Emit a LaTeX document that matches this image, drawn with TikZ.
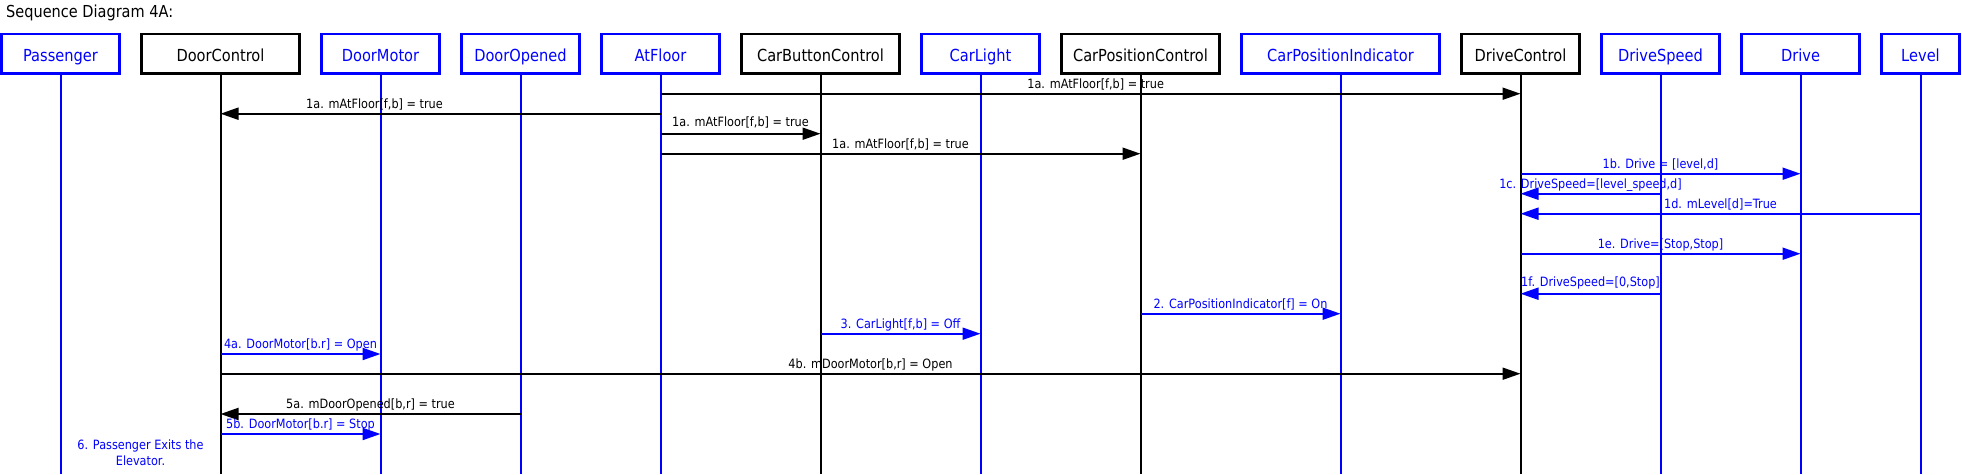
\documentclass[tikz,border=0pt]{standalone}
\usepackage{fontspec}
\setmainfont{DejaVu Sans}[FakeStretch=0.88]
\usetikzlibrary{arrows.meta}
\begin{document}
\begin{tikzpicture}[x=1pt,y=-1pt,
  box/.style={draw, line width=2.5pt, minimum height=39.5pt, inner sep=0pt,
    text height=15.3pt, text depth=0pt, font=\fontsize{16.6}{19}\selectfont},
  bbox/.style={box, draw=blue, text=blue},
  kbox/.style={box, draw=black, text=black},
  lifeb/.style={draw=blue, line width=2pt},
  lifek/.style={draw=black, line width=2pt},
  msgk/.style={draw=black, line width=2pt, -{Triangle[length=18pt,width=12pt]}},
  msgb/.style={draw=blue, line width=2pt, -{Triangle[length=18pt,width=12pt]}, blue},
  lbl/.style={anchor=base, inner sep=0pt, yshift=5.7pt, font=\fontsize{12.8}{15}\selectfont},
  lblb/.style={lbl, text=blue},
  lblk/.style={lbl, text=black}]
\useasboundingbox (0,0) rectangle (1962,474);
\node[anchor=base west, inner sep=0pt, font=\fontsize{16.5}{19}\selectfont] (title) at (6,17.5) {Sequence Diagram 4A:};
% boxes
\node[bbox, minimum width=118pt] (Passenger) at (60.5,53.7) {Passenger};
\node[kbox, minimum width=158pt] (DoorControl) at (220.5,53.7) {DoorControl};
\node[bbox, minimum width=118pt] (DoorMotor) at (380.5,53.7) {DoorMotor};
\node[bbox, minimum width=118pt] (DoorOpened) at (520.5,53.7) {DoorOpened};
\node[bbox, minimum width=118pt] (AtFloor) at (660.5,53.7) {AtFloor};
\node[kbox, minimum width=158pt] (CarButtonControl) at (820.5,53.7) {CarButtonControl};
\node[bbox, minimum width=118pt] (CarLight) at (980.5,53.7) {CarLight};
\node[kbox, minimum width=158pt] (CarPositionControl) at (1140.5,53.7) {CarPositionControl};
\node[bbox, minimum width=198pt] (CarPositionIndicator) at (1340.5,53.7) {CarPositionIndicator};
\node[kbox, minimum width=118pt] (DriveControl) at (1520.5,53.7) {DriveControl};
\node[bbox, minimum width=118pt] (DriveSpeed) at (1660.5,53.7) {DriveSpeed};
\node[bbox, minimum width=118pt] (Drive) at (1800.5,53.7) {Drive};
\node[bbox, minimum width=78pt] (Level) at (1920.5,53.7) {Level};
% lifelines
\coordinate (bottom) at (0,474);
\foreach \n in {Passenger,DoorMotor,DoorOpened,AtFloor,CarLight,CarPositionIndicator,DriveSpeed,Drive,Level}
  \draw[lifeb] (\n.south) -- (\n.south |- bottom);
\foreach \n in {DoorControl,CarButtonControl,CarPositionControl,DriveControl}
  \draw[lifek] (\n.south) -- (\n.south |- bottom);
% message rows
\coordinate (r1) at (0,93.7);
\coordinate (r2) at (0,113.7);
\coordinate (r3) at (0,133.7);
\coordinate (r4) at (0,153.7);
\coordinate (r5) at (0,173.7);
\coordinate (r6) at (0,193.7);
\coordinate (r7) at (0,213.7);
\coordinate (r8) at (0,253.7);
\coordinate (r9) at (0,293.7);
\coordinate (r10) at (0,313.7);
\coordinate (r11) at (0,333.7);
\coordinate (r12) at (0,354);
\coordinate (r13) at (0,373.7);
\coordinate (r14) at (0,414);
\coordinate (r15) at (0,434);
% messages
\draw[msgk] (AtFloor |- r1) -- node[lblk, pos=0.506] (t1) {1a. mAtFloor[f,b] = true} (DriveControl |- r1);
\draw[msgk] (AtFloor |- r2) -- node[lblk, pos=0.65] (t2) {1a. mAtFloor[f,b] = true} (DoorControl |- r2);
\draw[msgk] (AtFloor |- r3) -- node[lblk, midway, yshift=1.8pt] (t3) {1a. mAtFloor[f,b] = true} (CarButtonControl |- r3);
\draw[msgk] (AtFloor |- r4) -- node[lblk, midway] (t4) {1a. mAtFloor[f,b] = true} (CarPositionControl |- r4);
\draw[msgb] (DriveControl |- r5) -- node[lblb, midway] (t5) {1b. Drive = [level,d]} (Drive |- r5);
\draw[msgb] (DriveSpeed |- r6) -- node[lblb, midway] (t6) {1c. DriveSpeed=[level\_speed,d]} (DriveControl |- r6);
\draw[msgb] (Level |- r7) -- node[lblb, midway] (t7) {1d. mLevel[d]=True} (DriveControl |- r7);
\draw[msgb] (DriveControl |- r8) -- node[lblb, midway] (t8) {1e. Drive=[Stop,Stop]} (Drive |- r8);
\draw[msgb] (DriveSpeed |- r9) -- node[lblb, midway, yshift=1.8pt] (t9) {1f. DriveSpeed=[0,Stop]} (DriveControl |- r9);
\draw[msgb] (CarPositionControl |- r10) -- node[lblb, midway] (t10) {2. CarPositionIndicator[f] = On} (CarPositionIndicator |- r10);
\draw[msgb] (CarButtonControl |- r11) -- node[lblb, midway] (t11) {3. CarLight[f,b] = Off} (CarLight |- r11);
\draw[msgb] (DoorControl |- r12) -- node[lblb, midway] (t12) {4a. DoorMotor[b.r] = Open} (DoorMotor |- r12);
\draw[msgk] (DoorControl |- r13) -- node[lblk, midway] (t13) {4b. mDoorMotor[b,r] = Open} (DriveControl |- r13);
\draw[msgk] (DoorOpened |- r14) -- node[lblk, midway] (t14) {5a. mDoorOpened[b,r] = true} (DoorControl |- r14);
\draw[msgb] (DoorControl |- r15) -- node[lblb, midway] (t15) {5b. DoorMotor[b.r] = Stop} (DoorMotor |- r15);
% note
\node[align=center, inner sep=0pt, text=blue, font=\fontsize{12.8}{16}\selectfont] (n6) at (140.5,453) {6. Passenger Exits the\\Elevator.};
\end{tikzpicture}
\end{document}
